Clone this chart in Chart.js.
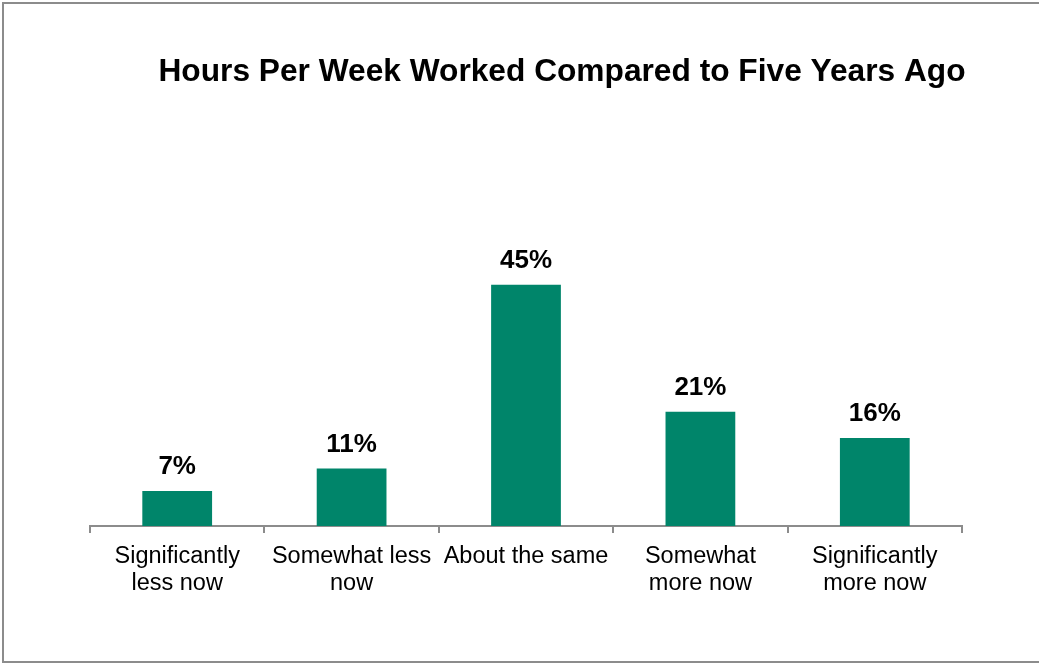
<!DOCTYPE html>
<html>
<head>
    <title>Hours Per Week Worked</title>
    <script src="https://cdn.jsdelivr.net/npm/chart.js@4.4.1/dist/chart.umd.min.js"></script>
    <style>
        body { margin: 0; background: #fff; }
        #wrap { position: relative; width: 1039px; height: 663px; }
        #frame { position: absolute; left: 2px; top: 2px; width: 1037px; height: 657px;
                 border-left: 2px solid #8c8c8c; border-top: 2px solid #8c8c8c; border-bottom: 2px solid #8c8c8c; }
        #stage { position: absolute; left: 0; top: 0; }
    </style>
</head>
<body>
<div id="wrap">
    <div id="frame"></div>
    <canvas id="stage" width="1039" height="663"></canvas>
</div>
<script>
    var categories = [
        ['Significantly', 'less now'],
        ['Somewhat less', 'now'],
        'About the same',
        ['Somewhat', 'more now'],
        ['Significantly', 'more now']
    ];
    // bar heights (percent)
    var values = [6.5, 10.7, 45, 21.3, 16.4];
    var chartTitle = 'Hours Per Week Worked Compared to Five Years Ago';

    var FONT = 'Arial, "Liberation Sans", sans-serif';

    // title and value labels
    var textPlugin = {
        id: 'textPlugin',
        afterDraw: function(chart) {
            var ctx = chart.ctx;
            ctx.save();
            ctx.fillStyle = '#000';
            ctx.textAlign = 'center';
            ctx.textBaseline = 'alphabetic';
            ctx.font = 'bold 31.7px ' + FONT;
            ctx.fillText(chartTitle, 562, 81);

            ctx.font = 'bold 26px ' + FONT;
            var meta = chart.getDatasetMeta(0);
            meta.data.forEach(function(bar, i) {
                ctx.fillText(Math.round(values[i]) + '%', bar.x, bar.y - 17);
            });
            ctx.restore();
        }
    };

    var chart = new Chart(document.getElementById('stage'), {
        type: 'bar',
        data: {
            labels: categories,
            datasets: [{
                data: values,
                backgroundColor: '#00856a',
                borderWidth: 0,
                barPercentage: 0.4,
                categoryPercentage: 1.0
            }]
        },
        options: {
            responsive: false,
            animation: false,
            layout: { padding: { left: 90, right: 77, top: 258, bottom: 56 } },
            plugins: {
                legend: { display: false },
                tooltip: { enabled: false },
                title: { display: false }
            },
            scales: {
                x: {
                    grid: {
                        display: true,
                        drawOnChartArea: false,
                        drawTicks: true,
                        tickLength: 7,
                        color: '#8c8c8c',
                        lineWidth: 2
                    },
                    border: { display: true, color: '#8c8c8c', width: 2 },
                    ticks: {
                        color: '#000',
                        padding: 10,
                        maxRotation: 0,
                        autoSkip: false,
                        font: { family: FONT, size: 23.5, lineHeight: 1.15 }
                    }
                },
                y: {
                    display: false,
                    min: 0,
                    max: 50
                }
            }
        },
        plugins: [textPlugin]
    });
</script>
</body>
</html>
